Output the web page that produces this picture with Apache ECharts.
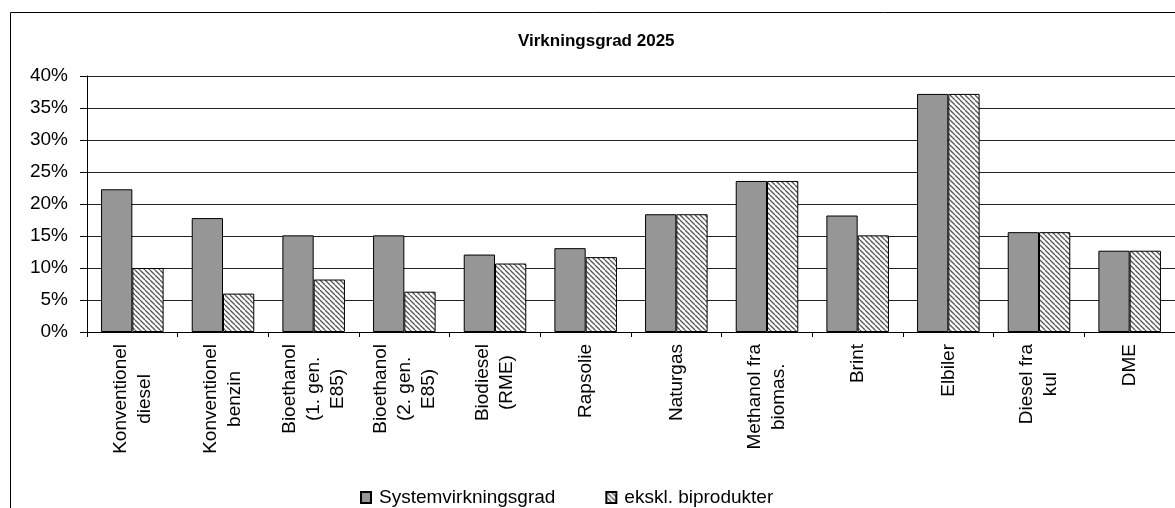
<!DOCTYPE html>
<html>
<head>
<meta charset="utf-8">
<script src="https://cdn.jsdelivr.net/npm/echarts@6/dist/echarts.min.js"></script>
<style>
  html, body { margin: 0; padding: 0; background: #fff; }
  #chart { width: 1175px; height: 508px; }
</style>
</head>
<body>
<div id="chart"></div>
<script>
// kategorier og værdier
const categories = [
  'Konventionel\ndiesel', 'Konventionel\nbenzin', 'Bioethanol\n(1. gen.\nE85)', 'Bioethanol\n(2. gen.\nE85)',
  'Biodiesel\n(RME)', 'Rapsolie', 'Naturgas', 'Methanol fra\nbiomas.', 'Brint', 'Elbiler', 'Diesel fra\nkul', 'DME'
]
const systemVirk = [22.3, 17.8, 15.1, 15.1, 12.1, 13.1, 18.4, 23.6, 18.2, 37.2, 15.6, 12.7]
const eksklBiprod = [10.0, 6.0, 8.2, 6.3, 10.7, 11.7, 18.4, 23.6, 15.1, 37.2, 15.6, 12.7]
const seriesNames = ['Systemvirkningsgrad', 'ekskl. biprodukter']
const yTicks = { min: 0, max: 40, interval: 5 }

const FONT = '"Liberation Sans", Arial, sans-serif'

// skraveringsmønster til 2. serie
function hatch() {
  const cv = document.createElement('canvas')
  cv.width = 5; cv.height = 5
  const ctx = cv.getContext('2d')
  ctx.fillStyle = '#fff'
  ctx.fillRect(0, 0, 5, 5)
  ctx.strokeStyle = '#555'
  ctx.lineWidth = 1.3
  for (const x0 of [-5, 0, 5]) {
    ctx.beginPath()
    ctx.moveTo(x0, 0)
    ctx.lineTo(x0 + 5, 5)
    ctx.stroke()
  }
  return cv
}

const c = echarts.init(document.getElementById('chart'))
c.setOption({
  animation: false,
  backgroundColor: '#fff',
  textStyle: { fontFamily: FONT, color: '#000' },
  title: {
    text: 'Virkningsgrad 2025',
    left: 513, top: 28,
    textStyle: { fontFamily: FONT, fontSize: 17, fontWeight: 'bold', color: '#000' }
  },
  graphic: [{
    type: 'rect',
    shape: { x: 10.5, y: 12.5, width: 1200, height: 600 },
    style: { fill: 'none', stroke: '#000', lineWidth: 1 },
    silent: true
  }],
  legend: {
    data: seriesNames,
    icon: 'rect',
    left: 355, top: 483,
    itemWidth: 10, itemHeight: 11, itemGap: 50,
    textStyle: { fontFamily: FONT, fontSize: 19, color: '#000', padding: [0, 0, 0, 3] }
  },
  grid: { left: 87, top: 76, width: 1092, bottom: 176, containLabel: false },
  xAxis: {
    type: 'category',
    data: categories,
    axisLine: { lineStyle: { color: '#000', width: 1 } },
    axisTick: { show: true, length: 5, lineStyle: { color: '#000' } },
    axisLabel: {
      rotate: 90, margin: 12, interval: 0,
      fontFamily: FONT, fontSize: 19, color: '#000', lineHeight: 24,
      formatter: v => v.split('\n').map(s => '{c|' + s + '}').join('\n'),
      rich: { c: { align: 'center', fontFamily: FONT, fontSize: 19, lineHeight: 24, color: '#000' } }
    }
  },
  yAxis: {
    type: 'value',
    min: yTicks.min, max: yTicks.max, interval: yTicks.interval,
    axisLine: { show: true, lineStyle: { color: '#000', width: 1 } },
    axisTick: { show: true, length: 7, lineStyle: { color: '#000' } },
    axisLabel: { margin: 19, fontFamily: FONT, fontSize: 19, color: '#000', formatter: '{value}%' },
    splitLine: { lineStyle: { color: '#222', width: 1 } }
  },
  series: [
    {
      name: seriesNames[0], type: 'bar', data: systemVirk,
      barGap: '0%', barCategoryGap: '31%',
      itemStyle: { color: '#969696', borderColor: '#000', borderWidth: 1 }
    },
    {
      name: seriesNames[1], type: 'bar', data: eksklBiprod,
      barGap: '0%', barCategoryGap: '31%',
      itemStyle: { color: { image: hatch(), repeat: 'repeat' }, borderColor: '#000', borderWidth: 1 }
    }
  ]
})
</script>
</body>
</html>
